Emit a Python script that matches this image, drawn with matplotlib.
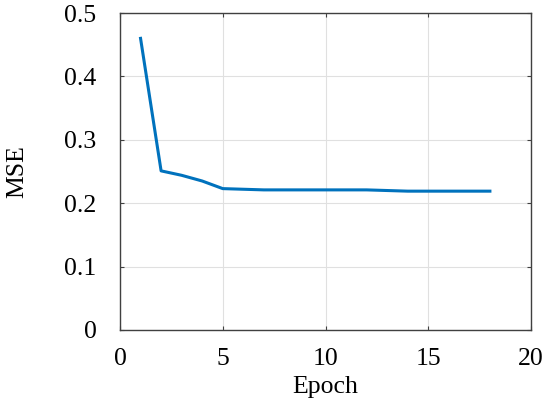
import matplotlib.pyplot as plt

# Training curve
epochs = list(range(1, 19))
mse = [0.460, 0.251, 0.244, 0.235, 0.223, 0.222, 0.221, 0.221, 0.221,
       0.221, 0.221, 0.221, 0.220, 0.219, 0.219, 0.219, 0.219, 0.219]
x_ticks = [0, 5, 10, 15, 20]
y_ticks = [0, 0.1, 0.2, 0.3, 0.4, 0.5]
y_labels = ["0", "0.1", "0.2", "0.3", "0.4", "0.5"]

plt.rcParams['font.family'] = ['Liberation Serif', 'DejaVu Serif']

fig = plt.figure(figsize=(5.5, 4.13), dpi=100)
ax = fig.add_axes([120 / 550, 1 - 330 / 413, 411 / 550, 317 / 413])

ax.plot(epochs, mse, color="#0072BD", linewidth=2.2)

ax.set_xlim(0, 20)
ax.set_ylim(0, 0.5)
ax.set_xticks(x_ticks)
ax.set_yticks(y_ticks)
ax.set_yticklabels(y_labels)
ax.tick_params(direction="in", top=True, right=True, labelsize=18.5,
               length=3, color="#404040")
ax.tick_params(axis="x", pad=13)
ax.tick_params(axis="y", pad=17)
ax.grid(True, color="#e0e0e0", linewidth=0.8)
for s in ax.spines.values():
    s.set_color("#404040")
    s.set_linewidth(1.0)

ax.set_xlabel("Epoch", fontsize=18.5, labelpad=4)
ax.set_ylabel("MSE", fontsize=18.5, labelpad=26)

fig.savefig("out.png", dpi=100)
